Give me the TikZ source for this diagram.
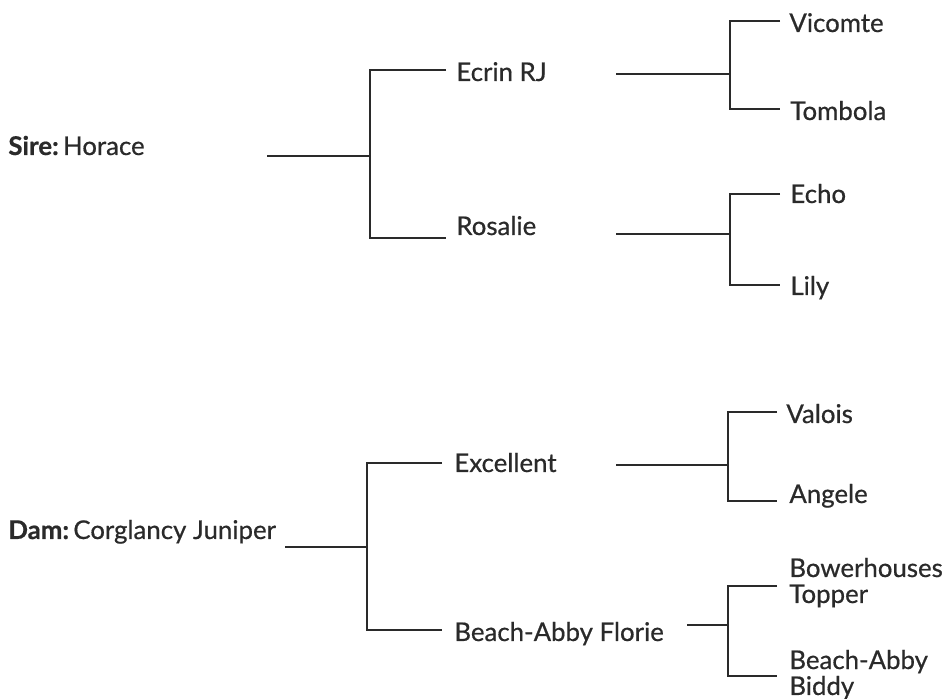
\documentclass[tikz,border=0pt]{standalone}
\usepackage{fontspec}
\setmainfont{Lato}[FakeBold=0.6]
\usetikzlibrary{positioning}
\definecolor{ink}{RGB}{42,42,42}
\tikzset{
  horse/.style={anchor=base west,inner sep=0pt,text=ink,align=left,font=\fontsize{12.9}{13}\selectfont},
  gen1/.style={draw=ink,line width=1pt},
  gen2/.style={draw=ink,line width=0.65pt}
}

\begin{document}
\begin{tikzpicture}[x=0.5pt,y=-0.5pt]
\useasboundingbox (0,0) rectangle (948,699);
% sire side
\node[horse] (sire) at (8,155) {\textbf{Sire:}\,Horace};
\node[horse] (ecrin) at (456,81) {Ecrin RJ};
\node[horse] (rosalie) at (456,235) {Rosalie};
\node[horse] (vicomte) at (789,32) {Vicomte};
\node[horse] (tombola) at (790,120) {Tombola};
\node[horse] (echo) at (790,203) {Echo};
\node[horse] (lily) at (790,295) {Lily};
% dam side
\node[horse] (dam) at (8,539) {\textbf{Dam:}\,Corglancy Juniper};
\node[horse] (excellent) at (454,472) {Excellent};
\node[horse] (florie) at (454,641) {Beach-Abby Florie};
\node[horse] (valois) at (786,423) {Valois};
\node[horse] (angele) at (789,503) {Angele};
\node[horse] (topper) at (789,603) {Bowerhouses\\Topper};
\node[horse] (biddy) at (789,695) {Beach-Abby\\Biddy};

% line ends
\coordinate (sire-r) at (267,156);
\coordinate (sire-j) at (370,156);
\coordinate (ecrin-l) at (446,70);
\coordinate (rosalie-l) at (446,238);
\coordinate (ecrin-r) at (616,74);
\coordinate (ecrin-j) at (730,74);
\coordinate (vicomte-l) at (780,21);
\coordinate (tombola-l) at (780,109);
\coordinate (rosalie-r) at (616,234);
\coordinate (rosalie-j) at (730,234);
\coordinate (echo-l) at (780,194);
\coordinate (lily-l) at (780,285);
\coordinate (dam-r) at (285,547);
\coordinate (dam-j) at (367,547);
\coordinate (excellent-l) at (442,463);
\coordinate (florie-l) at (442,630);
\coordinate (excellent-r) at (616,465);
\coordinate (excellent-j) at (728,465);
\coordinate (valois-l) at (777,412);
\coordinate (angele-l) at (777,501);
\coordinate (florie-r) at (687,625);
\coordinate (florie-j) at (728,625);
\coordinate (topper-l) at (777,586);
\coordinate (biddy-l) at (777,676);

\draw[gen1] (sire-r) -- (sire-j);
\draw[gen1] (ecrin-l) -| (sire-j |- rosalie-l) -- (rosalie-l);
\draw[gen2] (ecrin-r) -- (ecrin-j);
\draw[gen2] (vicomte-l) -| (ecrin-j |- tombola-l) -- (tombola-l);
\draw[gen2] (rosalie-r) -- (rosalie-j);
\draw[gen2] (echo-l) -| (rosalie-j |- lily-l) -- (lily-l);

\draw[gen1] (dam-r) -- (dam-j);
\draw[gen1] (excellent-l) -| (dam-j |- florie-l) -- (florie-l);
\draw[gen2] (excellent-r) -- (excellent-j);
\draw[gen2] (valois-l) -| (excellent-j |- angele-l) -- (angele-l);
\draw[gen2] (florie-r) -- (florie-j);
\draw[gen2] (topper-l) -| (florie-j |- biddy-l) -- (biddy-l);
\end{tikzpicture}
\end{document}
